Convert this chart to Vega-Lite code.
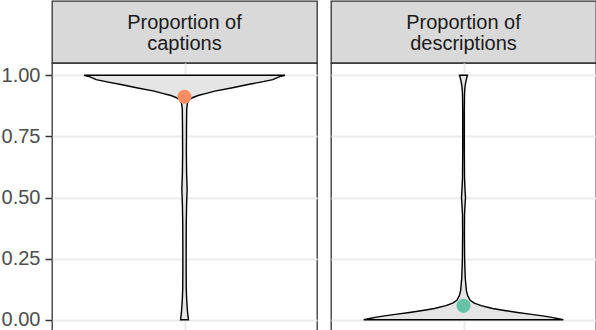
{
  "$schema": "https://vega.github.io/schema/vega-lite/v6.json",
  "padding": 0,
  "background": "white",
  "datasets": {
    "violin": [
      {"panel": "captions", "value": 0.000, "lo": -0.018, "hi": 0.018},
      {"panel": "captions", "value": 0.010, "lo": -0.0165, "hi": 0.0165},
      {"panel": "captions", "value": 0.030, "lo": -0.014, "hi": 0.014},
      {"panel": "captions", "value": 0.060, "lo": -0.0115, "hi": 0.0115},
      {"panel": "captions", "value": 0.090, "lo": -0.0095, "hi": 0.0095},
      {"panel": "captions", "value": 0.130, "lo": -0.008, "hi": 0.008},
      {"panel": "captions", "value": 0.200, "lo": -0.0075, "hi": 0.0075},
      {"panel": "captions", "value": 0.300, "lo": -0.0075, "hi": 0.0075},
      {"panel": "captions", "value": 0.400, "lo": -0.008, "hi": 0.008},
      {"panel": "captions", "value": 0.470, "lo": -0.0095, "hi": 0.0095},
      {"panel": "captions", "value": 0.535, "lo": -0.012, "hi": 0.012},
      {"panel": "captions", "value": 0.600, "lo": -0.0095, "hi": 0.0095},
      {"panel": "captions", "value": 0.680, "lo": -0.0085, "hi": 0.0085},
      {"panel": "captions", "value": 0.780, "lo": -0.009, "hi": 0.009},
      {"panel": "captions", "value": 0.860, "lo": -0.010, "hi": 0.010},
      {"panel": "captions", "value": 0.885, "lo": -0.013, "hi": 0.013},
      {"panel": "captions", "value": 0.898, "lo": -0.020, "hi": 0.020},
      {"panel": "captions", "value": 0.908, "lo": -0.036, "hi": 0.036},
      {"panel": "captions", "value": 0.917, "lo": -0.061, "hi": 0.061},
      {"panel": "captions", "value": 0.925, "lo": -0.095, "hi": 0.095},
      {"panel": "captions", "value": 0.935, "lo": -0.137, "hi": 0.137},
      {"panel": "captions", "value": 0.948, "lo": -0.212, "hi": 0.212},
      {"panel": "captions", "value": 0.962, "lo": -0.288, "hi": 0.288},
      {"panel": "captions", "value": 0.972, "lo": -0.345, "hi": 0.345},
      {"panel": "captions", "value": 0.982, "lo": -0.400, "hi": 0.400},
      {"panel": "captions", "value": 0.990, "lo": -0.420, "hi": 0.420},
      {"panel": "captions", "value": 0.996, "lo": -0.437, "hi": 0.437},
      {"panel": "captions", "value": 1.000, "lo": -0.455, "hi": 0.455},
      {"panel": "descriptions", "value": 0.000, "lo": -0.452, "hi": 0.452},
      {"panel": "descriptions", "value": 0.004, "lo": -0.430, "hi": 0.430},
      {"panel": "descriptions", "value": 0.010, "lo": -0.400, "hi": 0.400},
      {"panel": "descriptions", "value": 0.016, "lo": -0.359, "hi": 0.359},
      {"panel": "descriptions", "value": 0.023, "lo": -0.300, "hi": 0.300},
      {"panel": "descriptions", "value": 0.030, "lo": -0.245, "hi": 0.245},
      {"panel": "descriptions", "value": 0.038, "lo": -0.185, "hi": 0.185},
      {"panel": "descriptions", "value": 0.046, "lo": -0.132, "hi": 0.132},
      {"panel": "descriptions", "value": 0.058, "lo": -0.080, "hi": 0.080},
      {"panel": "descriptions", "value": 0.068, "lo": -0.049, "hi": 0.049},
      {"panel": "descriptions", "value": 0.080, "lo": -0.030, "hi": 0.030},
      {"panel": "descriptions", "value": 0.098, "lo": -0.019, "hi": 0.019},
      {"panel": "descriptions", "value": 0.120, "lo": -0.013, "hi": 0.013},
      {"panel": "descriptions", "value": 0.170, "lo": -0.008, "hi": 0.008},
      {"panel": "descriptions", "value": 0.250, "lo": -0.005, "hi": 0.005},
      {"panel": "descriptions", "value": 0.350, "lo": -0.004, "hi": 0.004},
      {"panel": "descriptions", "value": 0.430, "lo": -0.0045, "hi": 0.0045},
      {"panel": "descriptions", "value": 0.470, "lo": -0.007, "hi": 0.007},
      {"panel": "descriptions", "value": 0.500, "lo": -0.009, "hi": 0.009},
      {"panel": "descriptions", "value": 0.530, "lo": -0.007, "hi": 0.007},
      {"panel": "descriptions", "value": 0.580, "lo": -0.0045, "hi": 0.0045},
      {"panel": "descriptions", "value": 0.700, "lo": -0.0035, "hi": 0.0035},
      {"panel": "descriptions", "value": 0.850, "lo": -0.0035, "hi": 0.0035},
      {"panel": "descriptions", "value": 0.920, "lo": -0.0045, "hi": 0.0045},
      {"panel": "descriptions", "value": 0.940, "lo": -0.0055, "hi": 0.0055},
      {"panel": "descriptions", "value": 0.960, "lo": -0.008, "hi": 0.008},
      {"panel": "descriptions", "value": 0.975, "lo": -0.011, "hi": 0.011},
      {"panel": "descriptions", "value": 0.990, "lo": -0.015, "hi": 0.015},
      {"panel": "descriptions", "value": 1.000, "lo": -0.018, "hi": 0.018}
    ],
    "means": [
      {"panel": "captions", "mean": 0.912},
      {"panel": "descriptions", "mean": 0.057}
    ],
    "strips": [
      {"panel": "captions", "label": "Proportion of\ncaptions"},
      {"panel": "descriptions", "label": "Proportion of\ndescriptions"}
    ]
  },
  "columns": 2,
  "spacing": {"row": 0, "column": 14},
  "bounds": "flush",
  "concat": [
    {
      "width": 265, "height": 62,
      "view": {"fill": "#D9D9D9", "stroke": "#333333", "strokeWidth": 1.3},
      "data": {"name": "strips"},
      "transform": [{"filter": "datum.panel === 'captions'"}],
      "mark": {"type": "text", "lineBreak": "\n", "fontSize": 20, "font": "Liberation Sans", "color": "#1A1A1A", "lineHeight": 21.5, "align": "center", "baseline": "middle", "dy": -9.5},
      "encoding": {"text": {"field": "label"}}
    },
    {
      "width": 265, "height": 62,
      "view": {"fill": "#D9D9D9", "stroke": "#333333", "strokeWidth": 1.3},
      "data": {"name": "strips"},
      "transform": [{"filter": "datum.panel === 'descriptions'"}],
      "mark": {"type": "text", "lineBreak": "\n", "fontSize": 20, "font": "Liberation Sans", "color": "#1A1A1A", "lineHeight": 21.5, "align": "center", "baseline": "middle", "dy": -9.5},
      "encoding": {"text": {"field": "label"}}
    },
    {
      "width": 265, "height": 269,
      "view": {"stroke": "#333333", "strokeWidth": 1.3},
      "layer": [
        {
          "data": {"name": "violin"},
          "transform": [{"filter": "datum.panel === 'captions'"}],
          "mark": {"type": "area", "orient": "horizontal", "fill": "#E5E5E5", "stroke": "#000000", "strokeWidth": 1.4},
          "encoding": {
            "y": {"field": "value", "type": "quantitative", "title": null,
              "scale": {"domain": [-0.05, 1.05], "nice": false, "zero": false},
              "axis": {"values": [0, 0.125, 0.25, 0.375, 0.5, 0.625, 0.75, 0.875, 1],
                "labelExpr": "datum.value % 0.25 === 0 ? format(datum.value, '.2f') : ''",
                "labelOverlap": false, "domain": false, "grid": true, "gridColor": "#EBEBEB",
                "gridWidth": {"condition": {"test": "datum.value % 0.25 === 0", "value": 1.9}, "value": 0.95},
                "tickOpacity": {"condition": {"test": "datum.value % 0.25 === 0", "value": 1}, "value": 0},
                "tickColor": "#333333", "tickWidth": 1.5, "tickSize": 7, "labelPadding": 5,
                "labelFontSize": 20, "labelFont": "Liberation Sans", "labelColor": "#4D4D4D"}},
            "x": {"field": "lo", "type": "quantitative", "title": null,
              "scale": {"domain": [-0.6, 0.6], "nice": false, "zero": false},
              "axis": {"values": [0], "grid": true, "gridColor": "#EBEBEB", "gridWidth": 1.9, "labels": false, "ticks": false, "domain": false}},
            "x2": {"field": "hi"}
          }
        },
        {
          "data": {"name": "means"},
          "transform": [{"filter": "datum.panel === 'captions'"}],
          "mark": {"type": "point", "filled": true, "size": 200, "color": "#FC8D62", "opacity": 1},
          "encoding": {
            "y": {"field": "mean", "type": "quantitative", "title": null},
            "x": {"datum": 0, "type": "quantitative"}
          }
        }
      ]
    },
    {
      "width": 265, "height": 269,
      "view": {"stroke": "#333333", "strokeWidth": 1.3},
      "layer": [
        {
          "data": {"name": "violin"},
          "transform": [{"filter": "datum.panel === 'descriptions'"}],
          "mark": {"type": "area", "orient": "horizontal", "fill": "#E5E5E5", "stroke": "#000000", "strokeWidth": 1.4},
          "encoding": {
            "y": {"field": "value", "type": "quantitative", "title": null,
              "scale": {"domain": [-0.05, 1.05], "nice": false, "zero": false},
              "axis": {"values": [0, 0.125, 0.25, 0.375, 0.5, 0.625, 0.75, 0.875, 1],
                "labels": false, "ticks": false, "domain": false, "grid": true, "gridColor": "#EBEBEB",
                "gridWidth": {"condition": {"test": "datum.value % 0.25 === 0", "value": 1.9}, "value": 0.95}}},
            "x": {"field": "lo", "type": "quantitative", "title": null,
              "scale": {"domain": [-0.6, 0.6], "nice": false, "zero": false},
              "axis": {"values": [0], "grid": true, "gridColor": "#EBEBEB", "gridWidth": 1.9, "labels": false, "ticks": false, "domain": false}},
            "x2": {"field": "hi"}
          }
        },
        {
          "data": {"name": "means"},
          "transform": [{"filter": "datum.panel === 'descriptions'"}],
          "mark": {"type": "point", "filled": true, "size": 200, "color": "#66C2A5", "opacity": 1},
          "encoding": {
            "y": {"field": "mean", "type": "quantitative", "title": null},
            "x": {"datum": 0, "type": "quantitative"}
          }
        }
      ]
    }
  ],
  "config": {
    "font": "Liberation Sans",
    "view": {"stroke": "#333333", "strokeWidth": 1.3}
  }
}
